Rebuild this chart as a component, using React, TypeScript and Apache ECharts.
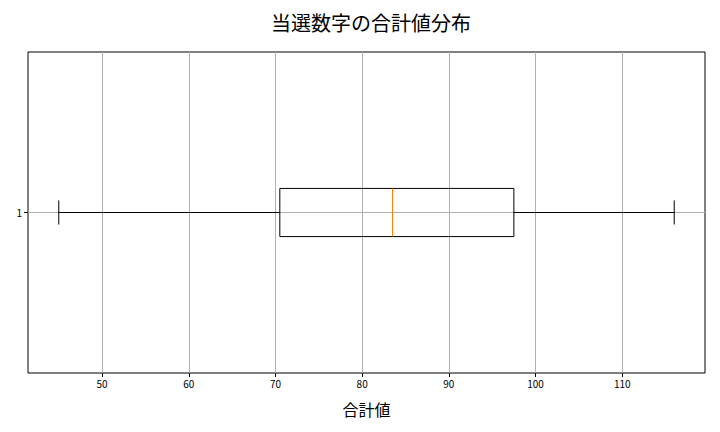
import { useEffect, useRef } from "react";
import * as echarts from "echarts";

const categories = ["1"];
const positions = [1];
const whiskerLow = [45];
const q1 = [70.5];
const median = [83.5];
const q3 = [97.5];
const whiskerHigh = [116];
const xTicks = [50, 60, 70, 80, 90, 100, 110];

const FONT = '"Noto Sans CJK JP", "Noto Sans", sans-serif';
const BOX_HALF = 0.075; // matplotlib default widths 0.15
const CAP_HALF = 0.0375;

export default function App() {
  const ref = useRef<HTMLDivElement>(null);

  useEffect(() => {
    if (!ref.current) return;
    const chart = echarts.init(ref.current, null, { renderer: "svg" });

    const data = positions.map((p, i) => [p, whiskerLow[i], q1[i], median[i], q3[i], whiskerHigh[i]]);

    chart.setOption({
      animation: false,
      backgroundColor: "#ffffff",
      title: {
        text: "当選数字の合計値分布",
        left: 366,
        top: 7,
        textAlign: "center",
        textStyle: { fontFamily: FONT, fontSize: 20, fontWeight: "normal", color: "#000" },
      },
      grid: {
        left: 28, right: 15, top: 52, bottom: 59,
        show: true, borderColor: "#000", borderWidth: 1, backgroundColor: "transparent",
      },
      xAxis: {
        type: "value",
        min: 41.45,
        max: 119.55,
        name: "合計値",
        nameLocation: "middle",
        nameGap: 28,
        nameTextStyle: { fontFamily: FONT, fontSize: 16, color: "#000" },
        axisLine: { show: false },
        axisTick: { show: true, length: 4, customValues: xTicks, lineStyle: { color: "#000" } },
        axisLabel: { customValues: xTicks, fontFamily: FONT, fontSize: 10, color: "#000", margin: 5 },
        splitLine: { show: true, lineStyle: { color: "#b0b0b0", width: 1 } },
      },
      yAxis: {
        type: "value",
        min: 0.5,
        max: 1.5,
        axisLine: { show: false },
        axisTick: { show: true, length: 4, customValues: positions, lineStyle: { color: "#000" } },
        axisLabel: {
          customValues: positions,
          formatter: (v: number) => categories[positions.indexOf(v)] ?? "",
          fontFamily: FONT, fontSize: 10, color: "#000", margin: 6,
        },
        splitLine: { show: true, lineStyle: { color: "#b0b0b0", width: 1 } },
      },
      series: [
        {
          type: "custom",
          data,
          renderItem: (_params: any, api: any) => {
            const y = api.value(0);
            const lo = api.value(1), a = api.value(2), m = api.value(3), b = api.value(4), hi = api.value(5);
            const pLoT = api.coord([lo, y - CAP_HALF]);
            const pLoB = api.coord([lo, y + CAP_HALF]);
            const pHiT = api.coord([hi, y - CAP_HALF]);
            const pHiB = api.coord([hi, y + CAP_HALF]);
            const pA = api.coord([a, y]);
            const pB = api.coord([b, y]);
            const pLo = api.coord([lo, y]);
            const pHi = api.coord([hi, y]);
            const boxTop = api.coord([a, y + BOX_HALF]);
            const boxBot = api.coord([b, y - BOX_HALF]);
            const mT = api.coord([m, y + BOX_HALF]);
            const mB = api.coord([m, y - BOX_HALF]);
            const black = { stroke: "#000", lineWidth: 1 };
            return {
              type: "group",
              children: [
                { type: "line", shape: { x1: pLo[0], y1: pLo[1], x2: pA[0], y2: pA[1] }, style: black },
                { type: "line", shape: { x1: pB[0], y1: pB[1], x2: pHi[0], y2: pHi[1] }, style: black },
                { type: "line", shape: { x1: pLoT[0], y1: pLoT[1], x2: pLoB[0], y2: pLoB[1] }, style: black },
                { type: "line", shape: { x1: pHiT[0], y1: pHiT[1], x2: pHiB[0], y2: pHiB[1] }, style: black },
                {
                  type: "rect",
                  shape: {
                    x: boxTop[0], y: boxTop[1],
                    width: boxBot[0] - boxTop[0], height: boxBot[1] - boxTop[1],
                  },
                  style: { fill: "none", stroke: "#000", lineWidth: 1 },
                },
                { type: "line", shape: { x1: mT[0], y1: mT[1], x2: mB[0], y2: mB[1] }, style: { stroke: "#ff7f0e", lineWidth: 1 } },
              ],
            };
          },
        },
      ],
    });

    return () => chart.dispose();
  }, []);

  return <div ref={ref} style={{ width: 720, height: 432, margin: -8 }} />;
}
